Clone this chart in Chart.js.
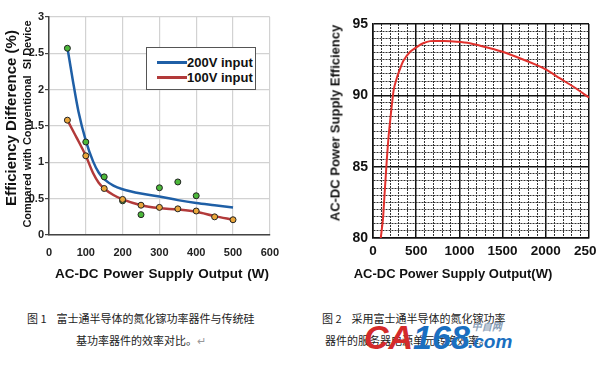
<!DOCTYPE html>
<html>
<head>
<meta charset="utf-8">
<script src="https://cdn.jsdelivr.net/npm/chart.js@4/dist/chart.umd.min.js"></script>
<style>
  html, body { margin: 0; padding: 0; width: 597px; height: 367px; overflow: hidden; background: #fff; }
  body { position: relative; font-family: 'Liberation Sans', Arial, sans-serif; color: #111; }
  canvas { position: absolute; top: 0; }
  #c1 { left: 0; }
  #c2 { left: 300px; }
  .title { position: absolute; white-space: nowrap; font-weight: bold; transform: translate(-50%, -50%); }
  .vert { transform: translate(-50%, -50%) rotate(-90deg); }
  .legend { position: absolute; left: 146px; top: 47px; width: 108px; height: 41px; border: 1.5px solid #555; background: #fff; }
  .legend div { position: absolute; left: 10px; font-weight: bold; font-size: 13px; line-height: 14px; }
  .legend span { display: inline-block; width: 30px; height: 3px; vertical-align: middle; margin-top: -2px; }
  .cap { position: absolute; font-family: 'Noto Sans CJK SC', sans-serif; font-size: 11px; color: #222; white-space: nowrap; }
  .wm { position: absolute; font-family: 'Liberation Sans', Arial, sans-serif; font-weight: bold; font-style: italic; white-space: nowrap; }
</style>
</head>
<body>
<canvas id="c1" width="290" height="290"></canvas>
<canvas id="c2" width="310" height="290"></canvas>

<div class="title vert" style="left:10px; top:118px; font-size:15px;">Efficiency Difference (%)</div>
<div class="title vert" style="left:27px; top:124px; font-size:11px;">Compared with Conventional&nbsp; SI Device</div>
<div class="title" style="left:162px; top:273px; font-size:13.5px; word-spacing:1px;">AC-DC Power Supply Output (W)</div>

<div class="legend">
  <div style="top:8px;"><span style="background:#1f5fa6"></span>200V input</div>
  <div style="top:23px;"><span style="background:#b23a3a"></span>100V input</div>
</div>

<div class="title vert" style="left:335px; top:123px; font-size:13px;">AC-DC Power Supply Efficiency</div>
<div class="title" style="left:453px; top:273px; font-size:13px;">AC-DC Power Supply Output(W)</div>

<div class="cap" style="left:27px; top:310px;">图 1&nbsp;&nbsp;&nbsp; 富士通半导体的氮化镓功率器件与传统硅</div>
<div class="cap" style="left:76px; top:332px;">基功率器件的效率对比。<span style="color:#999">↵</span></div>
<div class="cap" style="left:322px; top:310px;">图 2&nbsp;&nbsp;&nbsp; 采用富士通半导体的氮化镓功率</div>
<div class="cap" style="left:325px; top:332px;">器件的服务器电源单元转换效率。</div>

<div class="wm" style="left:364px; top:318px; font-size:34px; color:#d42a2a;">CA<span style="color:#1a6fc0">168</span></div>
<div class="wm" style="left:468px; top:331px; font-size:19px; color:#1a6fc0;">.com</div>
<div class="wm" style="left:472px; top:320px; font-size:10px; color:#8aa0b8;">中自网</div>

<script>
// 图1：效率差
const dotX = [50, 100, 150, 200, 250, 300, 350, 400, 450, 500];
const dots200 = [2.57, 1.28, 0.80, 0.47, 0.28, 0.65, 0.73, 0.54];
const dots100 = [1.58, 1.09, 0.64, 0.49, 0.41, 0.38, 0.36, 0.33, 0.25, 0.21];

const fit200X = [50, 65, 80, 100, 120, 135, 150, 175, 200, 250, 300, 350, 400, 450, 500];
const fit200Y = [2.58, 2.12, 1.70, 1.30, 1.01, 0.86, 0.77, 0.68, 0.63, 0.57, 0.53, 0.48, 0.44, 0.41, 0.38];
const fit100X = [50, 75, 100, 120, 135, 150, 175, 200, 250, 300, 350, 400, 450, 500];
const fit100Y = [1.58, 1.34, 1.09, 0.85, 0.72, 0.64, 0.55, 0.49, 0.41, 0.37, 0.35, 0.32, 0.26, 0.21];

// 图2：电源效率
const effX = [90, 115, 130, 145, 160, 180, 200, 240, 280, 310, 350, 430, 510, 580, 660, 820, 970, 1120, 1240, 1310, 1500, 1700, 1890, 2010, 2160, 2320, 2500];
const effY = [80, 81.3, 82.7, 84.1, 85.5, 87.1, 88.3, 90.4, 91.3, 91.8, 92.4, 93.05, 93.4, 93.65, 93.8, 93.8, 93.75, 93.65, 93.48, 93.37, 93.05, 92.6, 92.13, 91.78, 91.2, 90.6, 89.85];

const pts = (xs, ys) => ys.map((y, i) => ({ x: xs[i], y: y }));

new Chart(document.getElementById('c1'), {
    type: 'scatter',
    data: {
        datasets: [
            { data: pts(dotX, dots100), pointRadius: 3, pointBackgroundColor: '#e9a53a', pointBorderColor: '#222', pointBorderWidth: 1 },
            { data: pts(dotX, dots200), pointRadius: 3, pointBackgroundColor: '#4cb83a', pointBorderColor: '#222', pointBorderWidth: 1 },
            { data: pts(fit200X, fit200Y), showLine: true, pointRadius: 0, borderColor: '#1f5fa6', borderWidth: 2.5, cubicInterpolationMode: 'monotone' },
            { data: pts(fit100X, fit100Y), showLine: true, pointRadius: 0, borderColor: '#b23a3a', borderWidth: 2.5, cubicInterpolationMode: 'monotone' }
        ]
    },
    options: {
        responsive: false,
        animation: false,
        layout: { padding: { top: 17, right: 14, left: 0, bottom: 0 } },
        plugins: { legend: { display: false }, tooltip: { enabled: false } },
        scales: {
            x: {
                type: 'linear', min: 0, max: 600,
                afterFit: s => { s.height = 55; },
                ticks: { stepSize: 100, padding: 11, color: '#222', font: { family: 'Liberation Sans', size: 11, weight: 'bold' } },
                grid: { color: '#d2d2d2', lineWidth: 1.2, drawTicks: false },
                border: { color: '#444', width: 1.5 }
            },
            y: {
                min: 0, max: 3,
                afterFit: s => { s.width = 49; },
                ticks: { stepSize: 0.5, padding: 1, color: '#222', font: { family: 'Liberation Sans', size: 11, weight: 'bold' }, callback: v => String(v) },
                grid: { color: '#d2d2d2', lineWidth: 1.2, tickLength: 4, tickColor: '#444' },
                border: { color: '#444', width: 1.5 }
            }
        }
    }
});

const isMajor = (c, step) => c.tick && Math.abs(c.tick.value % step) < 1e-6;

new Chart(document.getElementById('c2'), {
    type: 'scatter',
    data: {
        datasets: [
            { data: pts(effX, effY), showLine: true, pointRadius: 0, borderColor: '#e0302c', borderWidth: 2, tension: 0.2 }
        ]
    },
    options: {
        responsive: false,
        animation: false,
        layout: { padding: { top: 24, right: 21, left: 0, bottom: 0 } },
        plugins: { legend: { display: false }, tooltip: { enabled: false } },
        scales: {
            x: {
                type: 'linear', min: 0, max: 2500,
                afterFit: s => { s.height = 52; },
                ticks: {
                    stepSize: 100, autoSkip: false, maxRotation: 0, padding: 5, color: '#111',
                    font: { family: 'Liberation Sans', size: 13.5, weight: 'bold' },
                    callback: v => v % 500 === 0 ? v : ''
                },
                grid: {
                    drawTicks: false,
                    color: c => isMajor(c, 500) ? '#111' : '#333',
                    lineWidth: c => isMajor(c, 500) ? 1.5 : 1
                },
                border: { color: '#111', width: 1.5, dash: c => (c.tick && !isMajor(c, 500)) ? [2, 1] : [] }
            },
            y: {
                min: 80, max: 95,
                afterFit: s => { s.width = 73; },
                ticks: {
                    stepSize: 0.5, autoSkip: false, padding: 5, color: '#111',
                    font: { family: 'Liberation Sans', size: 14, weight: 'bold' },
                    callback: v => v % 5 === 0 ? v : ''
                },
                grid: {
                    drawTicks: false,
                    color: c => isMajor(c, 5) ? '#111' : '#333',
                    lineWidth: c => isMajor(c, 5) ? 1.5 : 1
                },
                border: { color: '#111', width: 1.5, dash: c => (c.tick && !isMajor(c, 5)) ? [2, 1] : [] }
            }
        }
    }
});
</script>
</body>
</html>
